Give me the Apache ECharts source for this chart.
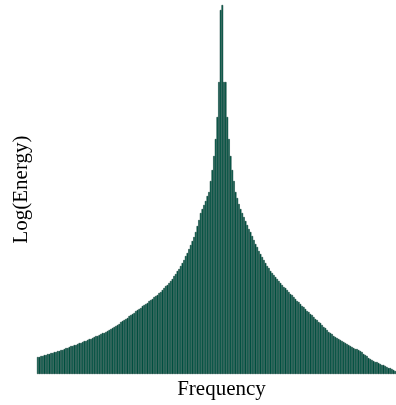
<!DOCTYPE html>
<html>
<head>
<meta charset="utf-8">
<script src="https://cdn.jsdelivr.net/npm/echarts@6/dist/echarts.min.js"></script>
<style>
  html, body { margin: 0; padding: 0; background: #ffffff; }
  #chart { width: 396px; height: 405px; }
</style>
</head>
<body>
<div id="chart"></div>
<script>
// log energy per frequency bin (left to right)
const leftTail = [
  17, 17, 18, 18, 19, 19, 20, 20, 21, 21, 22, 22, 23, 23, 24, 24, 25, 26, 26, 27, 28,
  28, 29, 29, 30, 31, 31, 32, 33, 33, 34, 35, 35, 36, 37, 38, 38, 39, 40, 41, 41, 42, 43, 44, 45,
  46, 47, 48, 49, 50, 52, 53, 54, 55, 56, 58, 59,
  60, 61, 63, 64, 65, 66, 68, 69, 70, 71, 73, 74,
  75, 77, 78, 79, 81, 82, 84, 86, 88, 89, 91, 93,
  95, 98, 100, 103, 105, 108, 111, 114, 118, 121, 125, 129,
  133, 137, 142, 148, 154, 161, 165, 169, 173, 178
];
const peak = [
  182, 193, 204, 218, 235, 257, 292, 364, 369, 292, 292, 257, 235, 218, 204, 193, 182
];
const rightTail = [
  176, 170, 165, 161, 157, 153, 149, 145, 142,
  138, 134, 130, 127, 123, 120,
  117, 114, 111, 108, 106, 103,
  101, 99, 97, 95, 93, 91,
  89, 87, 86, 84, 82, 80, 79, 77, 75, 73, 72, 70,
  68, 67, 65, 63, 62, 60, 59, 57, 55, 54, 52, 51,
  49, 47, 46, 44, 42, 41,
  40, 38, 37, 36, 35, 34,
  33, 32, 31, 30, 29, 28, 27, 26, 25, 25, 24, 23,
  22, 20, 19, 18, 16, 15,
  14, 13, 12, 12, 11, 10,
  9, 9, 8, 7, 6, 6, 5, 4, 3
];
const energy = leftTail.concat(peak, rightTail);
const bins = energy.map((_, i) => i + 1);

const chart = echarts.init(document.getElementById('chart'));
const nameFont = { fontFamily: 'Liberation Serif', fontSize: 21, color: '#000000' };

chart.setOption({
  animation: false,
  grid: { left: 37, right: 0, top: 5, bottom: 31 },
  xAxis: {
    type: 'category',
    data: bins,
    name: 'Frequency',
    nameLocation: 'middle',
    nameGap: 5,
    nameTextStyle: { ...nameFont, padding: [0, 0, 0, 10] },
    axisLine: { show: false },
    axisTick: { show: false },
    axisLabel: { show: false },
    splitLine: { show: false },
  },
  yAxis: {
    type: 'value',
    min: 0,
    max: 369,
    name: 'Log(Energy)',
    nameLocation: 'middle',
    nameRotate: 90,
    nameGap: 5,
    nameTextStyle: nameFont,
    axisLine: { show: false },
    axisTick: { show: false },
    axisLabel: { show: false },
    splitLine: { show: false },
  },
  series: [
    {
      type: 'bar',
      data: energy,
      barCategoryGap: 0,
      itemStyle: {
        color: '#00634f',
        borderColor: '#00332a',
        borderWidth: 0.5,
      },
    },
  ],
});
</script>
</body>
</html>
